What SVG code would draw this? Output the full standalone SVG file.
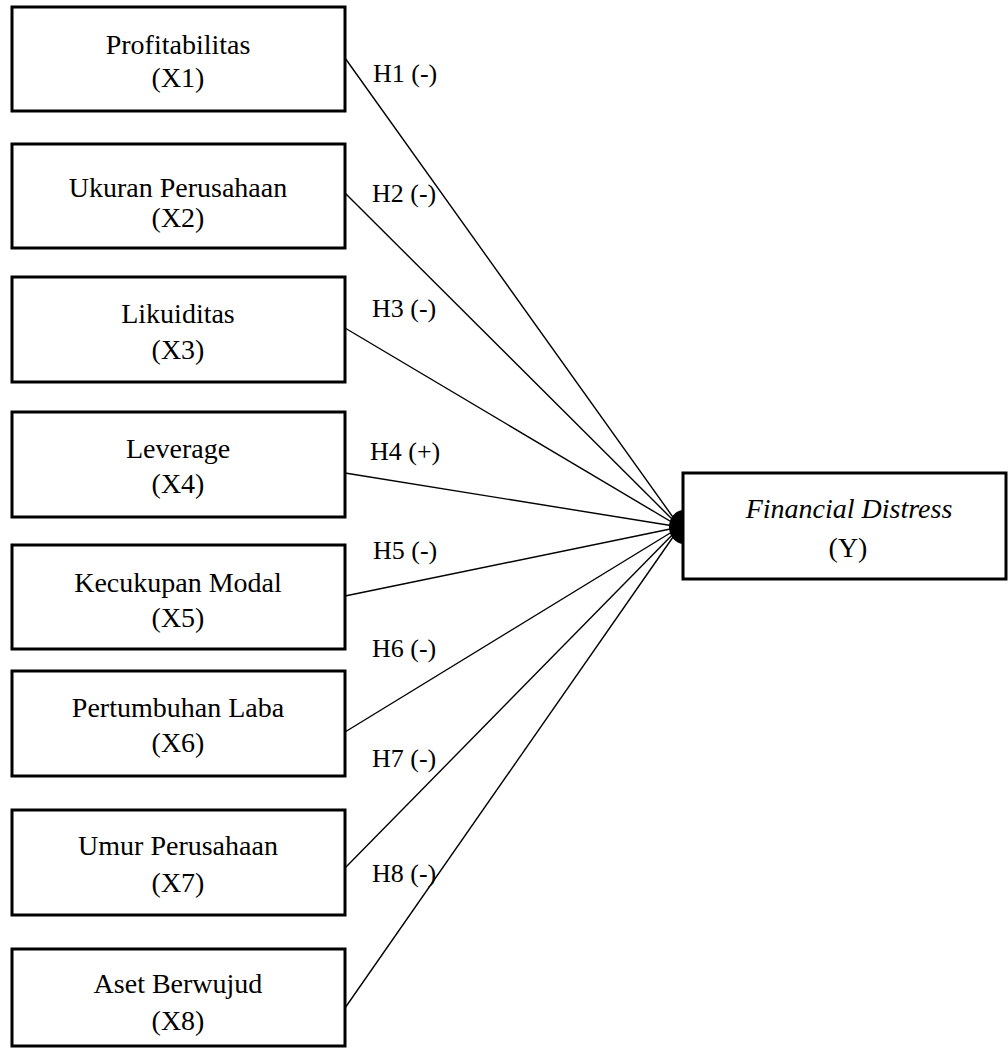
<svg xmlns="http://www.w3.org/2000/svg" width="1008" height="1048" viewBox="0 0 1008 1048">
<style>
.box{fill:#fff;stroke:#000;stroke-width:3}
.t{font-family:"Liberation Serif","Times New Roman",serif;font-size:28px;fill:#000;text-anchor:middle}
.lb{font-family:"Liberation Serif","Times New Roman",serif;font-size:26px;fill:#000}
.ln{stroke:#000;stroke-width:1.4;fill:none}
</style>
<rect width="1008" height="1048" fill="#fff"/>
<g id="connectors">
<line class="ln" x1="345" y1="58" x2="680" y2="527"/>
<line class="ln" x1="345" y1="193" x2="680" y2="527"/>
<line class="ln" x1="345" y1="328" x2="680" y2="527"/>
<line class="ln" x1="345" y1="473" x2="680" y2="527"/>
<line class="ln" x1="345" y1="596" x2="680" y2="527"/>
<line class="ln" x1="345" y1="732" x2="680" y2="527"/>
<line class="ln" x1="345" y1="868" x2="680" y2="527"/>
<line class="ln" x1="345" y1="1008" x2="680" y2="527"/>
<path d="M684,510 A15 17 0 0 0 684,544 Z" fill="#000"/>
<text class="lb" x="373" y="82">H1 (-)</text>
<text class="lb" x="372" y="202">H2 (-)</text>
<text class="lb" x="372" y="317">H3 (-)</text>
<text class="lb" x="370" y="460">H4 (+)</text>
<text class="lb" x="373" y="559">H5 (-)</text>
<text class="lb" x="372" y="657">H6 (-)</text>
<text class="lb" x="372" y="767">H7 (-)</text>
<text class="lb" x="372" y="882">H8 (-)</text>
</g>
<g id="x1"><rect class="box" x="12" y="7" width="333" height="104"/><text class="t" x="178" y="54">Profitabilitas</text><text class="t" x="178" y="87">(X1)</text></g>
<g id="x2"><rect class="box" x="12" y="144" width="333" height="104"/><text class="t" x="178" y="197">Ukuran Perusahaan</text><text class="t" x="178" y="227">(X2)</text></g>
<g id="x3"><rect class="box" x="12" y="277" width="333" height="105"/><text class="t" x="178" y="323">Likuiditas</text><text class="t" x="178" y="359">(X3)</text></g>
<g id="x4"><rect class="box" x="12" y="412" width="333" height="105"/><text class="t" x="178" y="458">Leverage</text><text class="t" x="178" y="493">(X4)</text></g>
<g id="x5"><rect class="box" x="12" y="545" width="333" height="104"/><text class="t" x="178" y="592">Kecukupan Modal</text><text class="t" x="178" y="627">(X5)</text></g>
<g id="x6"><rect class="box" x="12" y="671" width="333" height="105"/><text class="t" x="178" y="717">Pertumbuhan Laba</text><text class="t" x="178" y="752">(X6)</text></g>
<g id="x7"><rect class="box" x="12" y="810" width="333" height="105"/><text class="t" x="178" y="855">Umur Perusahaan</text><text class="t" x="178" y="892">(X7)</text></g>
<g id="x8"><rect class="box" x="12" y="949" width="333" height="97"/><text class="t" x="178" y="993">Aset Berwujud</text><text class="t" x="178" y="1030">(X8)</text></g>
<g id="y"><rect class="box" x="683" y="473" width="323" height="106"/><text class="t" x="849" y="518" font-style="italic">Financial Distress</text><text class="t" x="848" y="557">(Y)</text></g>
</svg>
